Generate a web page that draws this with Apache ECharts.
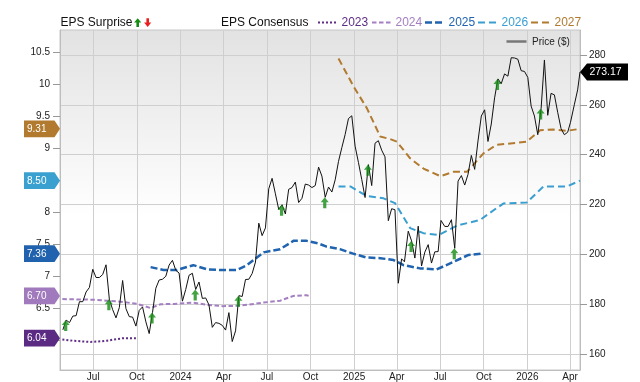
<!DOCTYPE html>
<html><head><meta charset="utf-8">
<script src="https://cdn.jsdelivr.net/npm/echarts@6/dist/echarts.min.js"></script>
<style>html,body{margin:0;padding:0;background:#fff}#c{width:640px;height:382px}</style>
</head><body><div id="c"></div>
<script>
// ---------- DATA ----------
const xRange = ['2023-04-22', '2026-04-22'];
const xTickDates = ['2023-07-01','2023-10-01','2024-01-01','2024-04-01','2024-07-01','2024-10-01','2025-01-01','2025-04-01','2025-07-01','2025-10-01','2026-01-01','2026-04-01'];
const leftTicks = [6, 6.5, 7, 7.5, 8, 8.5, 9, 9.5, 10, 10.5];
const rightTicks = [160, 180, 200, 220, 240, 260, 280];
const leftRange = [5.542, 10.855];
const rightRange = [153.58, 290.03];

const priceDates = ['2023-04-28','2023-05-05','2023-05-12','2023-05-19','2023-05-26','2023-06-02','2023-06-09','2023-06-16','2023-06-23','2023-06-30',
'2023-07-07','2023-07-14','2023-07-21','2023-07-28','2023-08-04','2023-08-11','2023-08-18','2023-08-25','2023-09-01','2023-09-08',
'2023-09-15','2023-09-22','2023-09-29','2023-10-06','2023-10-13','2023-10-20','2023-10-27','2023-11-03','2023-11-10','2023-11-17',
'2023-11-24','2023-12-01','2023-12-08','2023-12-15','2023-12-22','2023-12-29','2024-01-05','2024-01-12','2024-01-19','2024-01-26',
'2024-02-02','2024-02-09','2024-02-16','2024-02-23','2024-03-01','2024-03-08','2024-03-15','2024-03-22','2024-03-29','2024-04-05',
'2024-04-12','2024-04-19','2024-04-26','2024-05-03','2024-05-10','2024-05-17','2024-05-24','2024-05-31','2024-06-07','2024-06-14',
'2024-06-21','2024-06-28','2024-07-05','2024-07-12','2024-07-19','2024-07-26','2024-08-02','2024-08-09','2024-08-16','2024-08-23',
'2024-08-30','2024-09-06','2024-09-13','2024-09-20','2024-09-27','2024-10-04','2024-10-11','2024-10-18','2024-10-25','2024-11-01',
'2024-11-08','2024-11-15','2024-11-22','2024-11-29','2024-12-06','2024-12-13','2024-12-20','2024-12-27','2025-01-03','2025-01-10',
'2025-01-17','2025-01-24','2025-01-31','2025-02-07','2025-02-14','2025-02-21','2025-02-28','2025-03-07','2025-03-14','2025-03-21',
'2025-03-28','2025-04-04','2025-04-11','2025-04-17','2025-04-25','2025-05-02','2025-05-09','2025-05-16','2025-05-23','2025-05-30',
'2025-06-06','2025-06-13','2025-06-20','2025-06-27','2025-07-03','2025-07-11','2025-07-18','2025-07-25','2025-08-01','2025-08-08',
'2025-08-15','2025-08-22','2025-08-29','2025-09-05','2025-09-12','2025-09-19','2025-09-26','2025-10-03','2025-10-10','2025-10-17',
'2025-10-24','2025-10-31','2025-11-07','2025-11-14','2025-11-21','2025-11-28','2025-12-05','2025-12-12','2025-12-19','2025-12-26',
'2026-01-02','2026-01-09','2026-01-16','2026-01-23','2026-01-30','2026-02-06','2026-02-13','2026-02-20','2026-02-27','2026-03-06',
'2026-03-13','2026-03-20','2026-03-27','2026-04-02','2026-04-10','2026-04-17','2026-04-22'];
const priceValues = [169.7,173.6,172.6,175.2,175.4,181.0,181.0,184.9,186.7,194.0,
190.7,190.7,191.9,195.8,182.0,177.8,174.5,178.6,189.5,178.2,
175.0,174.8,171.2,177.5,178.9,172.9,168.2,176.7,186.4,189.7,
190.0,191.2,195.7,197.6,193.6,192.5,181.2,185.9,191.6,192.4,
185.9,188.9,182.3,182.5,179.7,170.7,172.6,172.3,171.5,169.6,
176.6,165.0,169.3,183.4,183.1,189.9,190.0,192.3,196.9,212.5,
207.5,210.6,226.3,230.5,224.3,218.0,219.9,216.2,226.1,226.8,
229.0,220.8,222.5,228.2,227.8,226.8,227.6,235.0,231.4,222.9,
227.0,225.0,229.9,237.3,242.8,248.1,254.5,255.6,243.4,236.9,
230.0,222.8,236.0,227.6,244.6,245.6,241.8,239.1,213.5,218.3,
217.9,188.4,198.2,197.0,209.3,205.4,198.5,211.3,195.3,200.9,
203.9,196.5,201.0,201.1,213.6,211.2,211.2,213.9,202.4,229.4,
231.6,227.8,232.1,239.7,234.1,245.5,255.5,258.0,245.3,252.3,
262.8,270.4,268.5,272.4,271.5,278.9,278.8,278.3,273.7,273.4,
271.0,259.5,255.5,248.0,258.5,278.0,255.8,264.6,264.0,257.0,
250.5,248.0,249.0,253.0,260.0,266.0,273.17];

const eps2023Dates = ['2023-04-27','2023-05-19','2023-06-25','2023-07-16','2023-07-30','2023-08-20','2023-09-03','2023-09-29'];
const eps2023 = [6.02, 6.00, 5.98, 5.99, 6.00, 6.025, 6.04, 6.04];

const eps2024Dates = ['2023-04-27','2023-07-02','2023-07-30','2023-08-28','2023-10-02','2023-10-30','2023-11-20','2023-12-18','2024-01-28','2024-02-26','2024-03-29','2024-04-29','2024-05-20','2024-06-24','2024-07-29','2024-08-26','2024-09-23','2024-09-27'];
const eps2024 = [6.65, 6.64, 6.625, 6.61, 6.575, 6.51, 6.57, 6.575, 6.595, 6.56, 6.54, 6.545, 6.56, 6.595, 6.625, 6.70, 6.71, 6.70];

const eps2025Dates = ['2023-10-30','2023-11-26','2023-12-24','2024-01-28','2024-02-26','2024-03-25','2024-04-29','2024-05-20','2024-06-24','2024-07-29','2024-08-26','2024-09-23','2024-10-17','2024-11-04','2024-12-02','2024-12-30','2025-01-27','2025-02-25','2025-03-25','2025-04-15','2025-05-20','2025-06-24','2025-07-29','2025-08-30','2025-09-26'];
const eps2025 = [7.15, 7.105, 7.105, 7.18, 7.115, 7.105, 7.105, 7.18, 7.38, 7.43, 7.56, 7.56, 7.52, 7.47, 7.43, 7.36, 7.30, 7.29, 7.26, 7.18, 7.13, 7.115, 7.23, 7.34, 7.36];

const eps2026Dates = ['2024-11-29','2024-12-24','2025-01-28','2025-03-04','2025-03-28','2025-04-29','2025-05-27','2025-06-28','2025-08-06','2025-09-23','2025-10-28','2025-11-12','2025-12-31','2026-02-04','2026-03-25','2026-04-22'];
const eps2026 = [8.41, 8.41, 8.26, 8.225, 8.15, 7.76, 7.68, 7.65, 7.80, 7.885, 8.07, 8.145, 8.16, 8.41, 8.41, 8.50];

const eps2027Dates = ['2024-11-29','2024-12-31','2025-01-28','2025-02-25','2025-03-18','2025-04-01','2025-04-29','2025-05-27','2025-07-02','2025-07-30','2025-08-27','2025-10-01','2025-10-28','2025-12-31','2026-01-28','2026-02-25','2026-03-25','2026-04-22'];
const eps2027 = [10.41, 9.97, 9.63, 9.19, 9.15, 9.11, 8.85, 8.69, 8.57, 8.64, 8.64, 8.93, 9.06, 9.11, 9.29, 9.30, 9.28, 9.31];

const surpriseDates = ['2023-05-04','2023-08-03','2023-11-02','2024-02-01','2024-05-02','2024-08-01','2024-10-31','2025-01-30','2025-05-01','2025-07-31','2025-10-30','2026-01-29'];
const surpriseValues = [173.6, 182.0, 176.7, 185.9, 183.4, 219.9, 222.9, 236.0, 205.4, 202.4, 270.4, 258.5];

const seriesNames = ['2023', '2024', '2025', '2026', '2027'];
// ---------- END DATA ----------

const FONT = '"Liberation Sans", Arial, Helvetica, sans-serif';
const MONTHS = ['Jan','Feb','Mar','Apr','May','Jun','Jul','Aug','Sep','Oct','Nov','Dec'];
const COLORS = ['#5e2d85', '#a47fc2', '#2064b0', '#3a9fd0', '#b17a2f'];
const BADGE = ['#5b2b83', '#a07abc', '#2062ad', '#3aa0cf', '#b17a2e'];
const DASH = [[2, 2], [4.5, 2.5], [7, 3], [7, 4], [7, 4]];
const WIDTH = [2, 2, 2.5, 2, 2];

function ts(s) { const p = s.split('-').map(Number); return new Date(p[0], p[1] - 1, p[2]).getTime(); }
function pairs(d, v) { return d.map((x, i) => [ts(x), v[i]]); }

const epsDates = [eps2023Dates, eps2024Dates, eps2025Dates, eps2026Dates, eps2027Dates];
const epsVals = [eps2023, eps2024, eps2025, eps2026, eps2027];
const xMin = ts(xRange[0]), xMax = ts(xRange[1]);
const xTicks = xTickDates.map(ts);

const chart = echarts.init(document.getElementById('c'), null, { renderer: 'canvas' });

const series = [];
epsVals.forEach((vals, i) => {
  series.push({
    name: seriesNames[i], type: 'line', yAxisIndex: 0, xAxisIndex: 0,
    data: pairs(epsDates[i], vals), symbol: 'none', showSymbol: false, silent: true,
    lineStyle: { color: COLORS[i], width: WIDTH[i], type: DASH[i] }, z: 3
  });
});
series.push({
  name: 'Price ($)', type: 'line', yAxisIndex: 1, data: pairs(priceDates, priceValues),
  symbol: 'none', showSymbol: false, silent: true, lineStyle: { color: '#111', width: 1 }, z: 4
});
series.push({
  name: 'EPS Surprise', type: 'scatter', yAxisIndex: 1, data: pairs(surpriseDates, surpriseValues),
  symbol: 'path://M4,0 L8,5 L5.6,5 L5.6,11 L2.4,11 L2.4,5 L0,5 Z', symbolSize: [8, 11], symbolOffset: [0, '50%'],
  itemStyle: { color: '#148c14' }, silent: true, z: 6
});

const axisLbl = { color: '#222', fontSize: 10, fontFamily: FONT };

chart.setOption({
  animation: false,
  textStyle: { fontFamily: FONT },
  grid: {
    left: 60, right: 60, top: 30, bottom: 12, show: true, outerBoundsMode: 'none',
    backgroundColor: new echarts.graphic.LinearGradient(0, 0, 0, 1, [
      { offset: 0, color: '#e2e2e2' }, { offset: 0.55, color: '#ffffff' }, { offset: 1, color: '#ffffff' }]),
    borderColor: '#c6c6c6', borderWidth: 1
  },
  xAxis: {
    type: 'value', min: xMin, max: xMax,
    axisLine: { show: true, lineStyle: { color: '#bdbdbd' } },
    axisTick: { show: false, customValues: xTicks },
    axisLabel: Object.assign({}, axisLbl, {
      customValues: xTicks, margin: 2,
      formatter: function (v) { const d = new Date(v); return d.getMonth() === 0 ? String(d.getFullYear()) : MONTHS[d.getMonth()]; }
    }),
    splitLine: { show: true, lineStyle: { color: '#cfcfcf', width: 1 } }
  },
  yAxis: [{
    type: 'value', position: 'left', min: leftRange[0], max: leftRange[1],
    axisLine: { show: true, lineStyle: { color: '#bdbdbd' } },
    axisTick: { show: true, length: 7, customValues: leftTicks, lineStyle: { color: '#999' } },
    axisLabel: Object.assign({}, axisLbl, { customValues: leftTicks, margin: 10 }),
    splitLine: { show: false }
  }, {
    type: 'value', position: 'right', min: rightRange[0], max: rightRange[1],
    axisLine: { show: true, lineStyle: { color: '#bdbdbd' } },
    axisTick: { show: true, length: 7, customValues: rightTicks, lineStyle: { color: '#999' } },
    axisLabel: Object.assign({}, axisLbl, { customValues: rightTicks, margin: 9 }),
    splitLine: { show: true, lineStyle: { color: '#cfcfcf', width: 1 } }
  }],
  series: series
});

// ---------- legend + badges (positions from library scales) ----------
const g = [];
const TXT = (x, y, text, color, size, align) => ({
  type: 'text', x: x, y: y, z: 100, silent: true,
  style: { text: text, fill: color, font: size + 'px ' + FONT, textAlign: align || 'left', textVerticalAlign: 'middle' }
});
g.push(TXT(60.5, 23, 'EPS Surprise', '#111', 12));
g.push({ type: 'polygon', z: 100, silent: true, shape: { points: [[137.7, 18.3], [141.3, 22.6], [139, 22.6], [139, 27], [136.4, 27], [136.4, 22.6], [134.1, 22.6]] }, style: { fill: '#148c14' } });
g.push({ type: 'polygon', z: 100, silent: true, shape: { points: [[144.1, 22.4], [146.4, 22.4], [146.4, 18.3], [149, 18.3], [149, 22.4], [151.2, 22.4], [147.7, 27]] }, style: { fill: '#e8201c' } });
g.push(TXT(221, 23, 'EPS Consensus', '#111', 12));
const legLineX = [318, 372, 425, 478, 531];
seriesNames.forEach((n, i) => {
  g.push({ type: 'line', z: 100, silent: true, shape: { x1: legLineX[i], y1: 22.5, x2: legLineX[i] + 19, y2: 22.5 },
    style: { stroke: COLORS[i], lineWidth: WIDTH[i], lineDash: DASH[i] } });
  g.push(TXT(legLineX[i] + 23.5, 23, n, COLORS[i], 12));
});
g.push({ type: 'line', z: 100, silent: true, shape: { x1: 506.5, y1: 41.5, x2: 526.5, y2: 41.5 }, style: { stroke: '#777', lineWidth: 2.5 } });
g.push(TXT(532, 42, 'Price ($)', '#222', 10));

const leftX = chart.convertToPixel({ xAxisIndex: 0 }, xMin);
const rightX = chart.convertToPixel({ xAxisIndex: 0 }, xMax);
epsVals.forEach((vals, i) => {
  const v = vals[vals.length - 1];
  const y = chart.convertToPixel({ yAxisIndex: 0 }, v);
  g.push({ type: 'polygon', z: 101, silent: true,
    shape: { points: [[leftX - 36, y - 8.4], [leftX - 5.5, y - 8.4], [leftX, y], [leftX - 5.5, y + 8.4], [leftX - 36, y + 8.4]] },
    style: { fill: BADGE[i] } });
  g.push(Object.assign(TXT(leftX - 33, y + 0.5, v.toFixed(2), '#fff', 10), { z: 102 }));
});
{
  const v = priceValues[priceValues.length - 1];
  const y = chart.convertToPixel({ yAxisIndex: 1 }, v);
  g.push({ type: 'polygon', z: 101, silent: true,
    shape: { points: [[rightX, y], [rightX + 7, y - 8.4], [rightX + 48, y - 8.4], [rightX + 48, y + 8.4], [rightX + 7, y + 8.4]] },
    style: { fill: '#000' } });
  g.push(Object.assign(TXT(rightX + 9.5, y + 0.5, v.toFixed(2), '#fff', 10.5), { z: 102 }));
}
chart.setOption({ graphic: g });
</script>
</body></html>
